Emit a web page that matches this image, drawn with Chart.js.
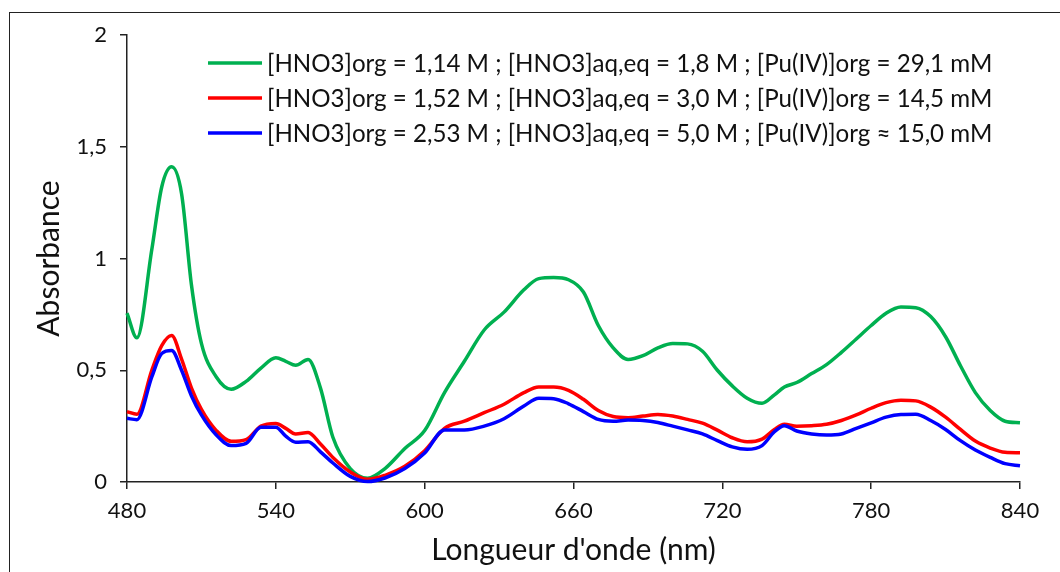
<!DOCTYPE html>
<html>
<head>
<meta charset="utf-8">
<script src="https://cdn.jsdelivr.net/npm/chart.js@4.4.1/dist/chart.umd.min.js"></script>
<style>
  html, body { margin: 0; padding: 0; background: #fff; }
  #wrap { position: relative; width: 1060px; height: 572px; overflow: hidden; }
  #frame { position: absolute; left: 9px; top: 12px; width: 1100px; height: 600px;
           border-top: 1.5px solid #222; border-left: 1.5px solid #222; }
  #chart { position: absolute; left: 0; top: 0; }
</style>
</head>
<body>
<div id="wrap">
  <div id="frame"></div>
  <canvas id="chart" width="1060" height="572"></canvas>
</div>
<script>
/* ==========================
   DATA
========================== */

const wavelengths = [480, 484, 490, 494, 498, 502, 506, 510, 516, 522, 528, 534, 540, 544, 548, 553, 558, 563, 570, 577,
    584, 592, 600, 608, 616, 624, 632, 640, 646, 652, 658, 664, 670, 676, 682, 688, 694, 700, 706, 712,
    718, 724, 730, 736, 741, 745, 750, 756, 762, 768, 774, 780, 786, 792, 798, 804, 810, 816, 822, 828, 834, 840];

const absGreen = [0.756, 0.645, 1.04, 1.32, 1.41, 1.29, 0.88, 0.62, 0.47, 0.415, 0.45, 0.51, 0.556, 0.54, 0.522, 0.548, 0.42, 0.20, 0.06, 0.017,
    0.06, 0.15, 0.23, 0.40, 0.54, 0.68, 0.76, 0.86, 0.91, 0.915, 0.905, 0.85, 0.70, 0.60, 0.548, 0.565, 0.60, 0.62, 0.618, 0.585,
    0.50, 0.43, 0.375, 0.352, 0.39, 0.425, 0.445, 0.485, 0.525, 0.58, 0.64, 0.70, 0.755, 0.783, 0.78, 0.74, 0.65, 0.52, 0.40, 0.32, 0.272, 0.265];

const absRed = [0.315, 0.303, 0.50, 0.61, 0.655, 0.55, 0.42, 0.325, 0.23, 0.182, 0.19, 0.25, 0.262, 0.24, 0.215, 0.222, 0.17, 0.11, 0.045, 0.012,
    0.03, 0.07, 0.14, 0.24, 0.272, 0.31, 0.348, 0.40, 0.425, 0.425, 0.41, 0.37, 0.32, 0.293, 0.288, 0.295, 0.302, 0.295, 0.28, 0.263,
    0.232, 0.198, 0.18, 0.192, 0.235, 0.258, 0.25, 0.252, 0.258, 0.275, 0.30, 0.33, 0.355, 0.366, 0.363, 0.335, 0.29, 0.235, 0.183, 0.152, 0.133, 0.131];

const absBlue = [0.285, 0.279, 0.47, 0.575, 0.588, 0.50, 0.385, 0.30, 0.21, 0.163, 0.173, 0.245, 0.245, 0.205, 0.178, 0.18, 0.135, 0.085, 0.025, 0.002,
    0.018, 0.06, 0.13, 0.233, 0.233, 0.25, 0.283, 0.34, 0.375, 0.373, 0.35, 0.315, 0.28, 0.272, 0.277, 0.275, 0.266, 0.25, 0.233, 0.215,
    0.185, 0.157, 0.146, 0.163, 0.225, 0.252, 0.228, 0.215, 0.21, 0.215, 0.24, 0.265, 0.29, 0.302, 0.303, 0.275, 0.235, 0.185, 0.143, 0.11, 0.082, 0.073];

const seriesLabels = [
    "[HNO3]org = 1,14 M ; [HNO3]aq,eq = 1,8 M ; [Pu(IV)]org = 29,1 mM",
    "[HNO3]org = 1,52 M ; [HNO3]aq,eq = 3,0 M ; [Pu(IV)]org = 14,5 mM",
    "[HNO3]org = 2,53 M ; [HNO3]aq,eq = 5,0 M ; [Pu(IV)]org ≈ 15,0 mM"
];
const seriesColors = ["#00b050", "#ff0000", "#0000ff"];

const xTicks = [480, 540, 600, 660, 720, 780, 840];
const yTicks = [0, 0.5, 1, 1.5, 2];

/* ==========================
   HELPERS
========================== */

const FONT = "Lato, 'Open Sans', sans-serif";
const toPoints = arr => wavelengths.map((w, i) => ({ x: w, y: arr[i] }));
const fmt = v => String(v).replace(".", ",");

// legend drawn inside the plot, top right, like Excel
const insideLegend = {
    id: "insideLegend",
    afterDraw(chart) {
        const c = chart.ctx;
        const rows = [63, 98, 133];
        const lineX0 = 208, lineX1 = 262, textX = 267, textW = 726;

        c.save();
        let size = 24;
        c.font = size + "px " + FONT;
        const w = c.measureText(seriesLabels[0]).width;
        size = size * textW / w;
        c.font = size + "px " + FONT;
        c.textBaseline = "middle";
        c.textAlign = "left";

        chart.data.datasets.forEach((ds, i) => {
            c.strokeStyle = ds.borderColor;
            c.lineWidth = 3.5;
            c.beginPath();
            c.moveTo(lineX0, rows[i]);
            c.lineTo(lineX1, rows[i]);
            c.stroke();
            c.fillStyle = "#111";
            c.fillText(ds.label, textX, rows[i] + 1);
        });
        c.restore();
    }
};

/* ==========================
   CHART
========================== */

const chart = new Chart(document.getElementById("chart"), {
    type: "line",
    data: {
        datasets: [0, 1, 2].map(i => ({
            label: seriesLabels[i],
            data: toPoints([absGreen, absRed, absBlue][i]),
            borderColor: seriesColors[i],
            backgroundColor: seriesColors[i],
            borderWidth: 3.5,
            pointRadius: 0,
            cubicInterpolationMode: "monotone",
            clip: false,
            order: 2 - i
        }))
    },
    options: {
        responsive: false,
        animation: false,
        devicePixelRatio: 1,
        layout: { padding: { left: 0, top: 35, right: 40, bottom: 0 } },
        plugins: {
            legend: { display: false },
            tooltip: { enabled: false }
        },
        scales: {
            x: {
                type: "linear",
                min: 480,
                max: 840,
                afterFit: s => { s.height = 90; },
                afterBuildTicks: s => { s.ticks = xTicks.map(v => ({ value: v })); },
                grid: { drawOnChartArea: false, drawTicks: true, tickLength: 7, color: "#222", lineWidth: 1.5 },
                border: { display: true, color: "#222", width: 1.5 },
                ticks: { color: "#111", font: { family: FONT, size: 22 }, padding: 9, maxRotation: 0 },
                title: {
                    display: true,
                    text: "Longueur d'onde (nm)",
                    color: "#111",
                    font: { family: FONT, size: 30 },
                    padding: { top: 0, bottom: 4 }
                }
            },
            y: {
                min: 0,
                max: 2,
                afterFit: s => { s.width = 127; },
                afterBuildTicks: s => { s.ticks = yTicks.map(v => ({ value: v })); },
                grid: { drawOnChartArea: false, drawTicks: true, tickLength: 7, color: "#222", lineWidth: 1.5 },
                border: { display: true, color: "#222", width: 1.5 },
                ticks: { color: "#111", font: { family: FONT, size: 22 }, padding: 13, callback: v => fmt(v) },
                title: {
                    display: true,
                    text: "Absorbance",
                    color: "#111",
                    font: { family: FONT, size: 30 },
                    padding: { top: 31, bottom: 0 }
                }
            }
        }
    },
    plugins: [insideLegend]
});
</script>
</body>
</html>
